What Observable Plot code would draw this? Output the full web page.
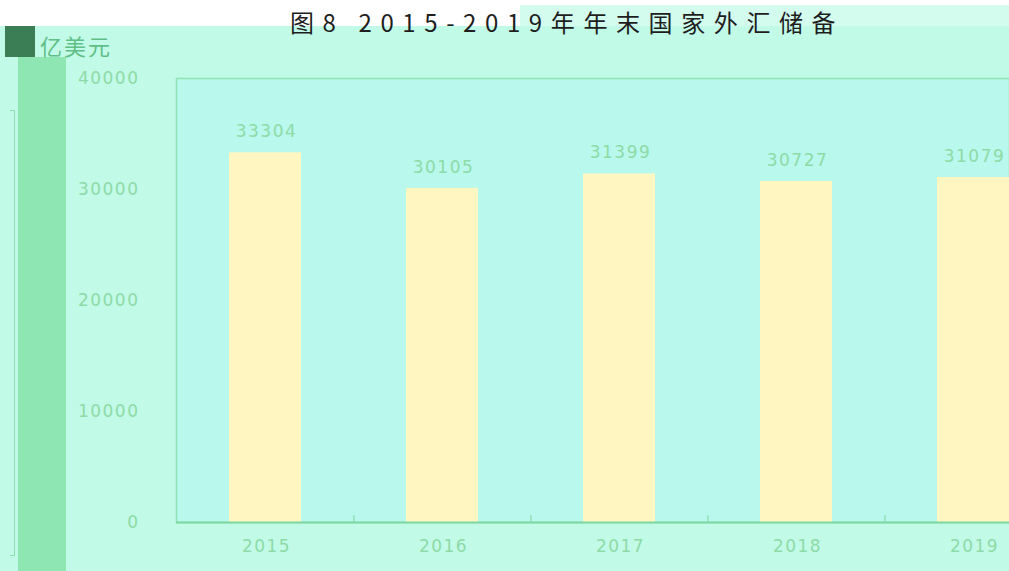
<!DOCTYPE html>
<html><head><meta charset="utf-8">
<script src="https://cdn.jsdelivr.net/npm/d3@7"></script>
<script src="https://cdn.jsdelivr.net/npm/@observablehq/plot@0.6"></script>
<style>
body{margin:0;background:#c2fae8;width:1009px;height:571px;overflow:hidden;position:relative;font-family:"Noto Sans CJK SC","Noto Sans",sans-serif;}
#topwhite{position:absolute;left:0;top:0;width:1009px;height:5px;background:#fff;}
#topleft{position:absolute;left:0;top:0;width:520px;height:26px;background:#fff;}
#topband{position:absolute;left:0;top:5px;width:1009px;height:21px;background:#d3fcef;}
#square{position:absolute;left:5px;top:26px;width:30px;height:31px;background:#3b7e56;}
#strip{position:absolute;left:18px;top:57px;width:48px;height:514px;background:#8ee7b2;}
#bracket{position:absolute;left:10px;top:110px;width:4px;height:444px;border:1.5px solid #8fe0b0;border-left:none;}
#chart{position:absolute;left:0;top:0;}
#chart svg text{letter-spacing:1.5px;}
#title{position:absolute;top:4px;left:290px;font-size:24px;color:#1e1e1e;letter-spacing:8.6px;white-space:nowrap;}
#unit{position:absolute;top:29px;left:40px;font-size:22px;color:#5fbf86;letter-spacing:2px;}
</style></head>
<body>
<div id="topband"></div><div id="topleft"></div><div id="topwhite"></div>
<div id="square"></div><div id="strip"></div><div id="bracket"></div>
<div id="chart"></div>
<div id="title"></div>
<div id="unit"></div>
<script>
const titleText = "图8 2015-2019年年末国家外汇储备";
const unitText = "亿美元";
const years = ["2015", "2016", "2017", "2018", "2019"];
const reserves = [33304, 30105, 31399, 30727, 31079];
const yTicks = [0, 10000, 20000, 30000, 40000];

document.getElementById("title").textContent = titleText;
document.getElementById("unit").textContent = unitText;

const data = years.map((y, i) => ({year: y, value: reserves[i]}));
const faint = "#8ddba6";
const xRange = [176, 1062];
const step = (xRange[1] - xRange[0]) / years.length;

const plot = Plot.plot({
  width: 1009,
  height: 571,
  marginLeft: 176,
  marginRight: 0,
  marginTop: 78,
  marginBottom: 49,
  style: {background: "transparent", fontFamily: "DejaVu Sans, sans-serif"},
  x: {domain: years, range: xRange, paddingInner: 0.595, paddingOuter: 0.2975, align: 0.5, label: null},
  y: {domain: [0, 40000], range: [522, 78], label: null},
  marks: [
    Plot.frame({fill: "#b9f8ec", stroke: "#90e4b4", strokeWidth: 1.5}),
    Plot.barY(data, {x: "year", y: "value", fill: "#fff6c2"}),
    Plot.text(data, {x: "year", y: "value", text: d => String(d.value), dy: -21, dx: 1, fill: faint, fontSize: 17}),
    Plot.ruleX(years.slice(1), {x: d => d, dx: -step / 2, y1: 0, y2: 600, stroke: "#86dca8", strokeWidth: 1.2}),
    Plot.axisY({ticks: yTicks, tickSize: 0, tickPadding: 37, tickFormat: d => String(d), fill: faint, fontSize: 17, label: null}),
    Plot.axisX({tickSize: 0, tickPadding: 17, dx: 1, fill: faint, fontSize: 17, label: null}),
    Plot.ruleY([0], {stroke: "#7fd7a2", strokeWidth: 2})
  ]
});
document.getElementById("chart").appendChild(plot);
</script>
</body></html>
